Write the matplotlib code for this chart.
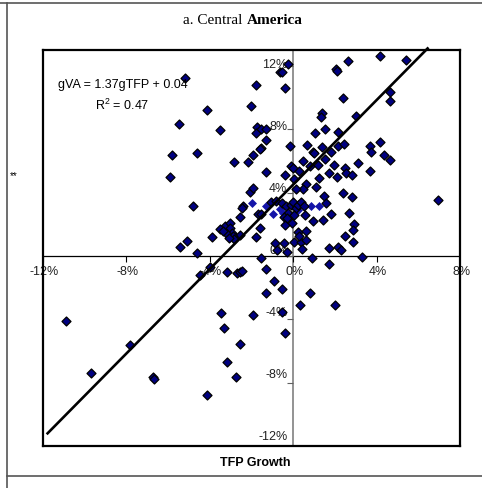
import matplotlib.pyplot as plt
from matplotlib.lines import Line2D

plt.rcParams['font.family'] = ['Liberation Sans', 'DejaVu Sans']
plt.rcParams['mathtext.fontset'] = 'custom'
plt.rcParams['mathtext.rm'] = 'Liberation Sans'

# TFP growth (x) vs value added growth (y), in percent
tfp_growth = [
    4.13, 5.40, 2.60, 2.06, 2.09, -0.26, -0.64, -0.56, -0.42, -1.78, -5.19, 4.61, 4.64, 2.38,
    -2.02, -4.16, -5.49, -3.50, 1.38, 1.32, 3.02, -1.75, -1.53, -1.30, -1.80, 1.49, 1.03, 2.15,
    -1.30, -1.54, -1.61, -0.18, 0.63, 0.92, 1.00, 1.35, 2.12, 2.41, 3.66, 3.73, 4.13, 4.34,
    4.64, 1.80, 1.51, -5.80, -4.63, -1.93, -2.20, -2.86, -5.90, -1.30, -0.40, -0.10, 0.00, 0.27,
    0.47, 0.80, 1.19, 1.70, 1.93, 2.07, 2.47, 2.52, 2.81, 3.08, 3.65, 1.24, 0.05, 0.61,
    0.48, 0.11, 1.09, -2.09, -1.93,
    6.94, 2.36, 2.81, 1.48, 1.56, 1.80, 1.40, 0.96, 0.55, 2.68, 2.92, 2.84, 2.49, 2.84,
    1.72, 2.12, 2.28, 3.29, 0.03, 0.35, 0.43, 0.22, 0.27, 0.59, 0.59, 0.87, -0.05, -4.82,
    -2.41, -2.46, -1.06, -0.85, -2.57, -1.70, -1.57, -1.61, -1.77, -2.57, -3.26, -3.02, -3.05, -2.94,
    -3.18, -2.89, -2.83, -3.10, -3.53, -3.37, -3.90, -5.43, -5.11, -4.63, -0.90, -0.77, -0.45, -0.32,
    -0.42, -0.53, -0.37, -0.26, -0.13, 0.00, 0.11, 0.24, 0.35, 0.51, -0.45, -0.30, 0.05,
    1.72, 0.79, 0.31, 2.01, -1.57, -1.29, -0.93, -0.56, -1.33, -0.53, -0.40, -1.94, -2.54, -3.47,
    -3.31, -3.16, -2.75, -4.13, -3.18, -2.70, -2.57, -2.46, -4.47, -4.02, -6.71, -6.68, -7.84, -9.69,
    -10.89,
]
va_growth = [
    12.65, 12.38, 12.29, 11.80, 11.68, 12.10, 11.58, 11.64, 10.60, 10.76, 11.26, 10.38, 9.79, 9.96,
    9.47, 9.22, 8.34, 7.96, 9.05, 8.76, 8.84, 8.17, 8.00, 8.00, 7.75, 8.00, 7.79, 7.81,
    7.33, 6.84, 6.74, 6.91, 7.01, 6.59, 6.48, 6.88, 6.91, 7.07, 6.91, 6.59, 7.22, 6.38,
    6.06, 6.59, 6.10, 6.38, 6.48, 6.34, 5.94, 5.94, 5.01, 5.28, 5.12, 5.68, 5.54, 5.39,
    6.02, 5.70, 5.75, 5.26, 5.75, 5.01, 5.54, 5.22, 5.12, 5.89, 5.37, 4.91, 4.86, 4.55,
    4.23, 4.23, 4.32, 4.06, 4.27,
    3.52, 3.96, 3.71, 3.79, 3.37, 2.65, 2.27, 2.23, 2.59, 2.69, 2.02, 1.64, 1.26, 0.86,
    0.48, 0.59, 0.38, -0.04, 0.86, 0.86, 0.42, 1.54, 1.26, 1.60, 1.01, -0.11, 2.06, 3.16,
    3.16, 3.01, 3.43, 3.49, 2.48, 2.65, 2.65, 1.75, 1.18, 1.33, 1.89, 2.06, 1.75, 1.43,
    1.39, 1.28, 1.05, 1.12, 1.68, 1.60, 1.18, 0.59, 0.95, 0.21, 0.80, 0.38, 0.84, 0.27,
    1.96, 3.37, 3.12, 2.69, 3.22, 3.43, 3.01, 3.22, 3.43, 3.16, 2.48, 2.40, 2.60,
    -0.53, -2.36, -3.09, -3.09, -0.15, -0.82, -1.56, -2.11, -2.36, -3.52, -4.84, -3.73, -5.58, -3.58,
    -4.57, -6.67, -7.62, -8.78, -0.99, -1.05, -0.99, -0.93, -1.20, -0.67, -7.62, -7.79, -5.62, -7.37,
    -4.08,
]

# lighter points in the central cluster
tfp_cluster = [-1.98, -1.33, -0.98, -0.48, 0.84, 1.24, -0.65, 0.20, -0.20]
va_cluster = [3.37, 3.12, 2.65, 2.69, 3.12, 3.12, 2.95, 2.90, 2.55]

# trend line end points as drawn
fit_x = [-11.78, 6.43]
fit_y = [-11.2, 13.1]

x_ticks = [-12, -8, -4, 0, 4, 8]
y_ticks = [12, 8, 4, 0, -4, -8, -12]

fig = plt.figure(figsize=(4.82, 4.89), dpi=100)
ax = fig.add_axes([0.0892, 0.0859, 0.8659, 0.8098])
ax.set_xlim(-12, 8)
ax.set_ylim(-12, 13)
ax.set_xticks([])
ax.set_yticks([])
for spine in ax.spines.values():
    spine.set_linewidth(1.6)
    spine.set_color('black')

ax.axhline(0, color='black', lw=0.9, zorder=1)
ax.axvline(0, color='#808080', lw=1.2, zorder=1)
ax.plot(x_ticks, [0] * len(x_ticks), ls='none', marker=3, ms=4, mew=0.8, color='black', zorder=1)
ax.plot([0] * len(y_ticks), y_ticks, ls='none', marker=0, ms=4, mew=0.8, color='#606060', zorder=1)

for v in x_ticks:
    ax.annotate(f'{v}%', (v, 0), xytext=(1, -15), textcoords='offset pixels',
                ha='center', va='center', fontsize=9, color='#222222', zorder=2)
for v in y_ticks:
    ax.annotate(f'{v}%', (0, v), xytext=(-6, 6 - 0.33 * v), textcoords='offset pixels',
                ha='right', va='center', fontsize=9, color='#222222', zorder=2)

ax.scatter(tfp_cluster, va_cluster, marker='D', s=21, color='#1414a8', linewidths=0, zorder=3)
ax.scatter(tfp_growth, va_growth, marker='D', s=21, color='#000080', edgecolors='black',
           linewidths=0.9, zorder=4)
ax.plot(fit_x, fit_y, color='black', lw=1.9, zorder=5, clip_on=False)

fig.text(58 / 482, 1 - 85 / 489, 'gVA = 1.37gTFP + 0.04', fontsize=9, ha='left', va='center')
fig.text(95 / 482, 1 - 105 / 489, r'R$^{2}$ = 0.47', fontsize=9, ha='left', va='center')

fig.text(182.7 / 482, 1 - 21 / 489, 'a. Central', family='Liberation Serif', fontsize=11,
         ha='left', va='center')
fig.text(246.5 / 482, 1 - 21 / 489, 'America', family='Liberation Serif', fontsize=11,
         fontweight='bold', ha='left', va='center')
fig.text(255 / 482, 1 - 463 / 489, 'TFP Growth', fontsize=9, fontweight='bold',
         ha='center', va='center')
fig.text(14 / 482, 1 - 176 / 489, '**', fontsize=7, ha='center', va='center')

# outer frame
fig.add_artist(Line2D([0, 1], [1 - 4 / 489, 1 - 4 / 489], transform=fig.transFigure,
                      color='#555555', lw=1.2))
fig.add_artist(Line2D([7 / 482, 7 / 482], [0, 1 - 4 / 489], transform=fig.transFigure,
                      color='#555555', lw=1.2))
fig.add_artist(Line2D([7 / 482, 1], [1 - 477 / 489, 1 - 477 / 489], transform=fig.transFigure,
                      color='#555555', lw=1.2))

fig.savefig('out.png', dpi=100)
